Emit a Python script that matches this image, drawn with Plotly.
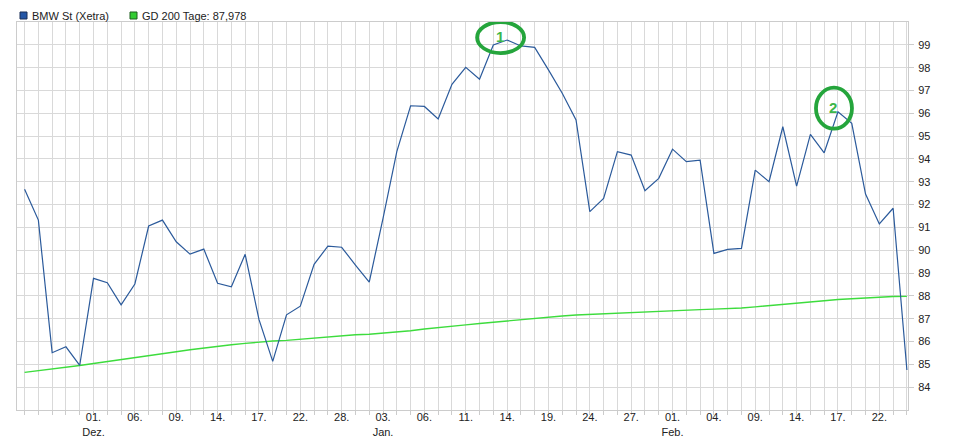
import plotly.graph_objects as go

# ---------------- data ----------------
dates = [
    "2021-11-24", "2021-11-25", "2021-11-26", "2021-11-29", "2021-11-30",
    "2021-12-01", "2021-12-02", "2021-12-03", "2021-12-06", "2021-12-07",
    "2021-12-08", "2021-12-09", "2021-12-10", "2021-12-13", "2021-12-14",
    "2021-12-15", "2021-12-16", "2021-12-17", "2021-12-20", "2021-12-21",
    "2021-12-22", "2021-12-23", "2021-12-27", "2021-12-28", "2021-12-29",
    "2021-12-30", "2022-01-03", "2022-01-04", "2022-01-05", "2022-01-06",
    "2022-01-07", "2022-01-10", "2022-01-11", "2022-01-12", "2022-01-13",
    "2022-01-14", "2022-01-17", "2022-01-18", "2022-01-19", "2022-01-20",
    "2022-01-21", "2022-01-24", "2022-01-25", "2022-01-26", "2022-01-27",
    "2022-01-28", "2022-01-31", "2022-02-01", "2022-02-02", "2022-02-03",
    "2022-02-04", "2022-02-07", "2022-02-08", "2022-02-09", "2022-02-10",
    "2022-02-11", "2022-02-14", "2022-02-15", "2022-02-16", "2022-02-17",
    "2022-02-18", "2022-02-21", "2022-02-22", "2022-02-23", "2022-02-24",
]

bmw_close = [
    92.67, 91.32, 85.51, 85.77, 84.96, 88.77, 88.58, 87.61, 88.52, 91.06,
    91.32, 90.37, 89.83, 90.05, 88.55, 88.40, 89.82, 86.97, 85.13, 87.17,
    87.55, 89.38, 90.18, 90.13, 89.35, 88.60, 91.40, 94.32, 96.33, 96.30,
    95.75, 97.27, 98.01, 97.49, 98.99, 99.21, 98.95, 98.89, 97.90, 96.88,
    95.71, 91.69, 92.27, 94.32, 94.17, 92.61, 93.15, 94.43, 93.88, 93.95,
    89.86, 90.04, 90.08, 93.51, 93.00, 95.41, 92.81, 95.08, 94.27, 96.07,
    95.56, 92.46, 91.15, 91.84, 84.75,
]

gd200 = [
    84.65, 84.72, 84.79, 84.86, 84.95, 85.04, 85.12, 85.20, 85.28, 85.37,
    85.46, 85.55, 85.64, 85.72, 85.80, 85.86, 85.92, 85.98, 86.02, 86.05,
    86.10, 86.15, 86.20, 86.26, 86.30, 86.32, 86.36, 86.40, 86.47, 86.55,
    86.62, 86.68, 86.73, 86.79, 86.85, 86.90, 86.96, 87.02, 87.08, 87.12,
    87.16, 87.19, 87.21, 87.23, 87.26, 87.29, 87.32, 87.35, 87.38, 87.40,
    87.42, 87.44, 87.47, 87.52, 87.58, 87.63, 87.68, 87.74, 87.79, 87.84,
    87.88, 87.92, 87.95, 87.97, 87.98,
]

label_dates = [
    "2021-12-01", "2021-12-06", "2021-12-09", "2021-12-14", "2021-12-17",
    "2021-12-22", "2021-12-28", "2022-01-03", "2022-01-06", "2022-01-11",
    "2022-01-14", "2022-01-19", "2022-01-24", "2022-01-27", "2022-02-01",
    "2022-02-04", "2022-02-09", "2022-02-14", "2022-02-17", "2022-02-22",
]
label_texts = [
    "01.<br>Dez.", "06.", "09.", "14.", "17.",
    "22.", "28.", "03.<br>Jan.", "06.", "11.",
    "14.", "19.", "24.", "27.", "01.<br>Feb.",
    "04.", "09.", "14.", "17.", "22.",
]

y_ticks = [84, 85, 86, 87, 88, 89, 90, 91, 92, 93, 94, 95, 96, 97, 98, 99]

legend_names = ["BMW St (Xetra)", "GD 200 Tage: 87,978"]
callout_dates = ["2022-01-14", "2022-02-17"]
callout_labels = ["1", "2"]

# ---------------- styling ----------------
FONT = "Liberation Sans, Arial, sans-serif"
BLUE = "#2b5a9b"
GREEN = "#3ddc3d"
GRID = "#d9d9d9"
CALL = "#25a53c"

W, H = 957, 446
ML, MR, MT, MB = 17, 49, 22, 36
PW, PH = W - ML - MR, H - MT - MB

tick_text_all = []
for d in dates:
    tick_text_all.append(label_texts[label_dates.index(d)] if d in label_dates else "")

fig = go.Figure()
fig.add_trace(go.Scatter(x=dates, y=gd200, mode="lines",
                         line=dict(color=GREEN, width=1.4), showlegend=False,
                         name=legend_names[1]))
fig.add_trace(go.Scatter(x=dates, y=bmw_close, mode="lines",
                         line=dict(color=BLUE, width=1.2), showlegend=False,
                         name=legend_names[0]))

def px_x(p):
    return (p - ML) / PW

def px_y(p):
    return (H - MB - p) / PH

shapes = []
annotations = []

# legend (squares + texts) top-left
legend_items = [
    (20, "#2456a6", "#1b2f57", 30, legend_names[0]),
    (130, "#33cc33", "#1e5e1e", 140, legend_names[1]),
]
for sx, fill, edge, tx, name in legend_items:
    shapes.append(dict(type="rect", xref="paper", yref="paper",
                       x0=px_x(sx), x1=px_x(sx + 7), y0=px_y(19), y1=px_y(12),
                       fillcolor=fill, line=dict(color=edge, width=1)))
    annotations.append(dict(xref="paper", yref="paper", x=px_x(tx), y=px_y(15.5),
                            xanchor="left", yanchor="middle", showarrow=False,
                            text=name, font=dict(family=FONT, size=11, color="#222222")))

# callout ellipses with numbers
ell_offsets = [(-30, 17, -13, 18), (-22, 14, -17, 24)]
for d, lab, (ex0, ex1, ey0, ey1) in zip(callout_dates, callout_labels, ell_offsets):
    i = dates.index(d)
    yv = bmw_close[i]
    shapes.append(dict(type="circle", xref="x", yref="y",
                       xsizemode="pixel", ysizemode="pixel",
                       xanchor=i, yanchor=yv,
                       x0=ex0, x1=ex1, y0=ey0, y1=ey1,
                       line=dict(color=CALL, width=3.8)))
    annotations.append(dict(xref="x", yref="y", x=i, y=yv, showarrow=False,
                            xshift=(ex0 + ex1) / 2 - 1, yshift=(ey0 + ey1) / 2 + 1,
                            text="<b>" + lab + "</b>",
                            font=dict(family=FONT, size=15, color="#3cb64a")))

fig.update_layout(
    width=W, height=H,
    margin=dict(l=ML, r=MR, t=MT, b=MB, autoexpand=False),
    paper_bgcolor="white", plot_bgcolor="white",
    showlegend=False,
    shapes=shapes, annotations=annotations,
    font=dict(family=FONT, size=11, color="#222222"),
)
fig.update_xaxes(
    type="category", range=[-0.55, len(dates) - 1 + 0.08],
    tickmode="array", tickvals=dates, ticktext=tick_text_all,
    showgrid=True, gridcolor=GRID, gridwidth=1,
    ticks="outside", ticklen=4, tickcolor="#cccccc", ticklabelstandoff=-7,
    showline=True, linecolor="#cccccc", linewidth=1, mirror=True,
    zeroline=False, automargin=False,
    tickfont=dict(family=FONT, size=11, color="#222222"),
)
fig.update_yaxes(
    side="right", range=[83, 100],
    tickmode="array", tickvals=y_ticks, ticktext=[str(v) for v in y_ticks],
    showgrid=True, gridcolor=GRID, gridwidth=1,
    ticks="outside", ticklen=5, tickcolor="#cccccc", ticklabelstandoff=2,
    showline=True, linecolor="#cccccc", linewidth=1, mirror=True,
    zeroline=False, automargin=False,
    tickfont=dict(family=FONT, size=11, color="#222222"),
)

fig.write_html(
    "out.html",
    config={"displayModeBar": False},
    post_script="document.body.style.margin='0px';document.body.style.overflow='hidden';",
)
